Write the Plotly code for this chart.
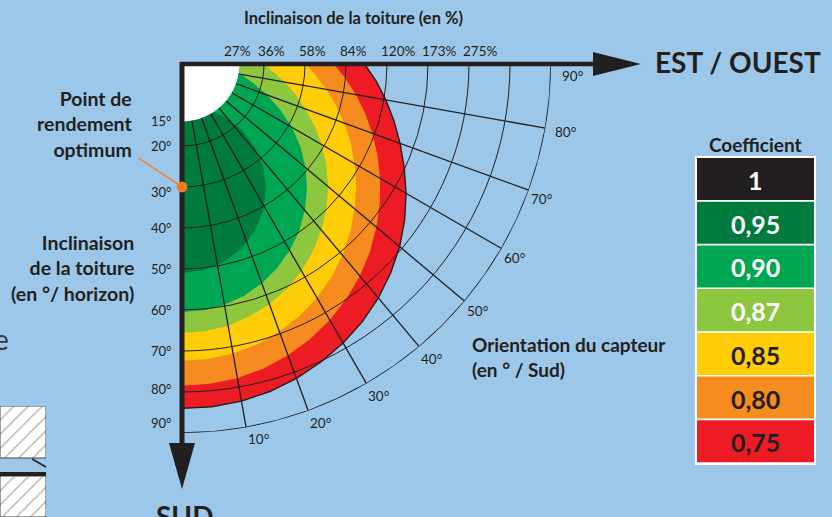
import numpy as np
import plotly.graph_objects as go

W, H = 832, 517
BG = "#9CC7E8"
INK = "#231F20"
FONT = "Lato"

# ---------------- data ----------------
# orientation of the panel (degrees from South, towards East/West)
orientation = [0, 5, 10, 15, 20, 25, 30, 35, 40, 45, 50, 55, 60, 65, 70, 75, 80, 85, 90]
# outer limit (roof tilt, degrees) of each coefficient zone, read along each orientation
tilt_075 = [84.0, 83.9, 83.5, 82.7, 81.6, 80.2, 78.6, 76.7, 74.5, 72.0, 69.3, 66.3, 63.1, 59.8, 56.6, 53.5, 50.5, 47.5, 44.5]
tilt_080 = [78.5, 78.3, 77.8, 76.9, 75.6, 74.0, 72.1, 69.9, 67.5, 64.8, 61.9, 58.9, 55.8, 52.6, 49.4, 46.2, 43.1, 40.0, 37.0]
tilt_085 = [72.4, 72.2, 71.7, 70.8, 69.4, 67.8, 65.8, 63.5, 60.9, 58.0, 55.0, 51.9, 48.6, 45.4, 42.1, 38.9, 35.8, 32.8, 30.4]
tilt_087 = [65.6, 65.4, 64.8, 63.7, 62.3, 60.5, 58.3, 55.7, 52.9, 49.8, 46.5, 43.0, 39.3, 35.7, 32.0, 28.6, 25.4, 22.4, 19.8]
tilt_090 = [60.5, 60.3, 59.6, 58.5, 56.9, 54.9, 52.5, 49.8, 46.6, 43.1, 39.3, 35.3, 31.0, 26.5, 22.0, 18.0, 14.5, 11.0, 8.0]
# the 0.95 zone is a closed blob around the optimum
orient_095 = [0, 6.0, 12.0, 17.9, 23.5, 28.9, 33.9, 38.2, 41.2, 42.2, 38.8, 26.4, 0]
tilt_095 = [51.0, 50.6, 49.3, 47.3, 44.5, 40.9, 36.8, 32.0, 26.9, 21.6, 16.4, 11.9, 10.0]

inner_limit = 14           # white centre (no data)
optimum = (0, 30)          # (orientation, tilt)

tilt_ticks = [15, 20, 30, 40, 50, 60, 70, 80, 90]
tilt_grid = [20, 30, 40, 50, 60, 70, 80]
tilt_max = 90
orient_ticks = [10, 20, 30, 40, 50, 60, 70, 80, 90]
orient_grid = [10, 20, 30, 40, 50, 60, 70, 80]
pct_tilts = [15, 20, 30, 40, 50, 60, 70]
pct_labels = ["27%", "36%", "58%", "84%", "120%", "173%", "275%"]

coef_labels = ["1", "0,95", "0,90", "0,87", "0,85", "0,80", "0,75"]
coef_colors = ["#231F20", "#007A3D", "#00A651", "#8DC63F", "#FFCC08", "#F68B1F", "#ED1C24"]
coef_text = ["white", "white", "white", "white", INK, INK, INK]

# ---------------- geometry helpers ----------------
CX, CY, RPX, RMAX = 182, 64, 369, 90


def px(theta, r):
    k = RPX / RMAX
    t = np.radians(theta)
    return CX + k * r * np.sin(t), CY + k * r * np.cos(t)


dom_x = [CX / W, (CX + RPX) / W]
dom_y = [1 - (CY + RPX) / H, 1 - CY / H]

fig = go.Figure()

zones = [(tilt_075, coef_colors[6]), (tilt_080, coef_colors[5]), (tilt_085, coef_colors[4]),
         (tilt_087, coef_colors[3]), (tilt_090, coef_colors[2])]
for tilts, col in zones:
    fig.add_trace(go.Scatterpolar(theta=orientation + [90, 0], r=tilts + [0, 0], mode="lines",
                                  fill="toself", fillcolor=col, line=dict(width=0, color=col),
                                  hoverinfo="skip", subplot="polar", showlegend=False))
fig.add_trace(go.Scatterpolar(theta=orient_095, r=tilt_095, mode="lines", fill="toself",
                              fillcolor=coef_colors[1], line=dict(width=0, color=coef_colors[1]),
                              hoverinfo="skip", subplot="polar", showlegend=False))
fig.add_trace(go.Scatterpolar(theta=orientation + [90, 0], r=[inner_limit] * len(orientation) + [0, 0],
                              mode="lines", fill="toself", fillcolor="white", line=dict(width=0, color="white"),
                              hoverinfo="skip", subplot="polar", showlegend=False))

# grid: radial lines for each orientation, outer arc, outline of the outermost zone
rad_theta, rad_r = [], []
for o in orient_grid:
    rad_theta += [o, o, None]
    rad_r += [inner_limit, tilt_max, None]
fig.add_trace(go.Scatterpolar(theta=rad_theta, r=rad_r, mode="lines", line=dict(color=INK, width=1.3),
                              hoverinfo="skip", subplot="polar2", showlegend=False))
fig.add_trace(go.Scatterpolar(theta=orientation, r=[tilt_max] * len(orientation), mode="lines",
                              line=dict(color=INK, width=1.3), hoverinfo="skip", subplot="polar2",
                              showlegend=False))
fig.add_trace(go.Scatterpolar(theta=orientation, r=tilt_075, mode="lines", line=dict(color=INK, width=1.4),
                              hoverinfo="skip", subplot="polar2", showlegend=False))

ang_common = dict(rotation=-90, direction="counterclockwise", showticklabels=False, ticks="",
                  showgrid=False, showline=False)
fig.update_layout(
    width=W, height=H, margin=dict(l=0, r=0, t=0, b=0),
    paper_bgcolor=BG, plot_bgcolor=BG, showlegend=False,
    polar=dict(domain=dict(x=dom_x, y=dom_y), sector=[270, 360], bgcolor="rgba(0,0,0,0)",
               radialaxis=dict(range=[0, RMAX], showgrid=False, showline=False, showticklabels=False, ticks=""),
               angularaxis=ang_common),
    polar2=dict(domain=dict(x=dom_x, y=dom_y), sector=[270, 360], bgcolor="rgba(0,0,0,0)",
                hole=inner_limit / RMAX,
                radialaxis=dict(range=[inner_limit, RMAX], tickmode="array", tickvals=tilt_grid,
                                showgrid=True, gridcolor=INK, gridwidth=1.3, showline=False,
                                showticklabels=False, ticks=""),
                angularaxis=ang_common),
)

shapes = []
ann = []


def text(x, y, s, size, xanchor="center", yanchor="middle", color=INK, align="center", bold=False):
    ann.append(dict(x=x / W, y=1 - y / H, xref="paper", yref="paper", xanchor=xanchor, yanchor=yanchor,
                    align=align, showarrow=False, text=f"<b>{s}</b>" if bold else s,
                    font=dict(family=FONT, size=size, color=color)))


# thick axes with arrow heads
shapes.append(dict(type="line", xref="paper", yref="paper", x0=180 / W, y0=1 - 64 / H, x1=596 / W, y1=1 - 64 / H,
                   line=dict(color=INK, width=4.5)))
shapes.append(dict(type="line", xref="paper", yref="paper", x0=182 / W, y0=1 - 62 / H, x1=182 / W, y1=1 - 446 / H,
                   line=dict(color=INK, width=5)))
shapes.append(dict(type="path", xref="paper", yref="paper", fillcolor=INK, line=dict(width=0),
                   path=f"M{593/W},{1-52/H} L{641/W},{1-64/H} L{593/W},{1-76/H} Z"))
shapes.append(dict(type="path", xref="paper", yref="paper", fillcolor=INK, line=dict(width=0),
                   path=f"M{169/W},{1-443/H} L{182/W},{1-489/H} L{195/W},{1-443/H} Z"))

# legend table
tx0, tx1, ty0, rh = 697, 814, 158, 43.7
shapes.append(dict(type="rect", xref="paper", yref="paper", x0=695 / W, x1=816 / W,
                   y0=1 - (ty0 - 2) / H, y1=1 - (ty0 + rh * len(coef_labels) + 1) / H,
                   fillcolor="white", line=dict(width=0)))
for i, (lab, col, tc) in enumerate(zip(coef_labels, coef_colors, coef_text)):
    y_top = ty0 + i * rh
    y_bot = y_top + rh - 1.6
    shapes.append(dict(type="rect", xref="paper", yref="paper", x0=tx0 / W, x1=tx1 / W,
                       y0=1 - y_top / H, y1=1 - y_bot / H, fillcolor=col, line=dict(width=0)))
    text((tx0 + tx1) / 2, (y_top + y_bot) / 2 + 1, lab, 25, color=tc, bold=True)
text(755, 145, "Coefficient", 19, bold=True)

# percent labels along the top axis
pct_nudge = {15: -14}
for t, lab in zip(pct_tilts, pct_labels):
    x, _ = px(90, t)
    text(x - 8 + pct_nudge.get(t, 0), 51, lab, 13.5, xanchor="left")

# tilt labels along the South axis
tilt_nudge = {15: -4, 30: 5, 80: -3, 90: -10}
for t in tilt_ticks:
    _, y = px(0, t)
    text(173, y + tilt_nudge.get(t, 0), f"{t}°", 13, xanchor="right")

# orientation labels at the end of each radial line
or_nudge_x = {80: 8, 90: 9}
or_nudge_y = {50: -2, 60: -3, 70: -3, 80: -8}
for o in orient_ticks:
    x, y = px(o, RMAX)
    text(x + or_nudge_x.get(o, 0), y + 2 + or_nudge_y.get(o, 0), f"{o}°", 13.5, xanchor="left", yanchor="top")

# optimum point marker
ox, oy = px(*optimum)
ann.append(dict(x=ox / W, y=1 - oy / H, xref="paper", yref="paper", ax=-45, ay=-30, text="",
                showarrow=True, arrowhead=6, arrowsize=1.8, arrowwidth=1.5, arrowcolor="#F47B20", standoff=0))

# texts
text(353, 18, "Inclinaison de la toiture (en %)", 16.5, bold=True)
text(653, 62, "EST / OUEST", 28, xanchor="left", bold=True)
text(184, 497, "SUD", 28, yanchor="top", bold=True)
text(134, 124, "Point de<br>rendement<br>optimum", 19.5, xanchor="right", align="right", bold=True)
text(136, 268, "Inclinaison<br>de la toiture<br>(en °/ horizon)", 19.5, xanchor="right", align="right", bold=True)
text(470, 357, "Orientation du capteur<br>(en ° / Sud)", 19, xanchor="left", align="left", bold=True)
text(11, 339, "e", 28, xanchor="right", color="#3a3a3a")

# cropped hatched drawing at the bottom left (decorative)
fig.add_trace(go.Bar(x=[0.5, 0.5], y=[52, 41], base=[59, 0], width=1, xaxis="x", yaxis="y",
                     marker=dict(color="white", line=dict(color="#444", width=1),
                                 pattern=dict(shape="/", fgcolor="#555", bgcolor="white", size=10, solidity=0.12)),
                     hoverinfo="skip", showlegend=False))
fig.update_layout(
    barmode="overlay",
    xaxis=dict(domain=[0, 46 / W], range=[0, 1], visible=False),
    yaxis=dict(domain=[0, 1 - 406 / H], range=[0, 111], visible=False),
)
shapes.append(dict(type="line", xref="paper", yref="paper", x0=0, x1=46 / W, y0=1 - 474 / H, y1=1 - 474 / H,
                   line=dict(color=INK, width=4)))
shapes.append(dict(type="line", xref="paper", yref="paper", x0=32 / W, x1=46 / W, y0=1 - 459 / H, y1=1 - 467 / H,
                   line=dict(color=INK, width=1.5)))

fig.update_layout(shapes=shapes, annotations=ann)
fig.write_html("out.html", config={"displayModeBar": False},
               post_script="document.body.style.margin='0px';")
